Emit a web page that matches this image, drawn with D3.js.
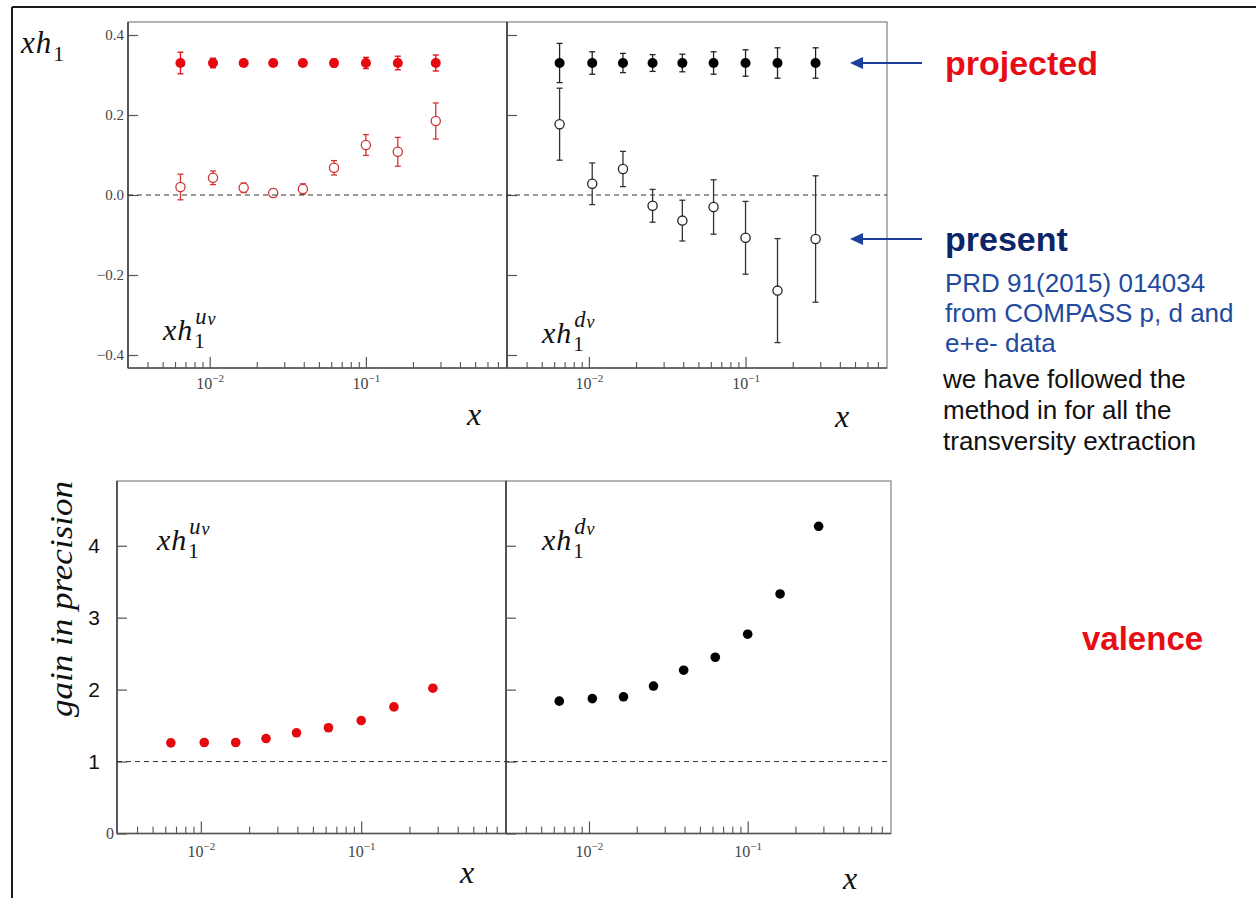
<!DOCTYPE html>
<html>
<head>
<meta charset="utf-8">
<script src="https://cdn.jsdelivr.net/npm/d3@7"></script>
<style>
  body { margin: 0; background: #fff; }
  svg { display: block; }
</style>
</head>
<body>
<svg id="fig" width="1260" height="898"></svg>
<script>
// x bins shared by all four panels
const X_BINS = [0.0065, 0.0105, 0.0165, 0.0255, 0.0395, 0.0625, 0.1, 0.16, 0.28];

// transversity u_v: projected and present extraction
const U_PROJ     = [0.33, 0.33, 0.33, 0.33, 0.33, 0.33, 0.33, 0.33, 0.33];
const U_PROJ_ERR = [0.027, 0.012, 0.008, 0.004, 0.008, 0.010, 0.014, 0.017, 0.020];
const U_PRES     = [0.020, 0.043, 0.018, 0.005, 0.015, 0.068, 0.125, 0.108, 0.185];
const U_PRES_ERR = [0.032, 0.017, 0.012, 0.010, 0.013, 0.018, 0.026, 0.036, 0.045];

// transversity d_v: projected and present extraction
const D_PROJ     = [0.33, 0.33, 0.33, 0.33, 0.33, 0.33, 0.33, 0.33, 0.33];
const D_PROJ_ERR = [0.049, 0.028, 0.024, 0.021, 0.022, 0.028, 0.033, 0.038, 0.038];
const D_PRES     = [0.177, 0.028, 0.065, -0.027, -0.064, -0.030, -0.107, -0.239, -0.110];
const D_PRES_ERR = [0.090, 0.052, 0.044, 0.041, 0.051, 0.068, 0.091, 0.130, 0.158];

// gain in precision
const U_GAIN = [1.26, 1.265, 1.265, 1.32, 1.40, 1.47, 1.57, 1.76, 2.02];
const D_GAIN = [1.84, 1.875, 1.90, 2.05, 2.27, 2.45, 2.77, 3.33, 4.27];

// axes
const X_DOMAIN = [0.003, 0.8];
const X_MAJOR = [0.01, 0.1];
const Y_TICKS_TOP = [-0.4, -0.2, 0.0, 0.2, 0.4];
const Y_DOMAIN_TOP = [-0.4325, 0.4325];
const Y_TICKS_BOTTOM = [0, 1, 2, 3, 4];
const Y_DOMAIN_BOTTOM = [0, 4.9];

const RED = "#e5080e";
const RED_OPEN = "#cf3434";
const BLACK = "#000";
const SERIF = "'Liberation Serif', 'DejaVu Serif', serif";
const SANS = "'Liberation Sans', Arial, sans-serif";

const svg = d3.select("#fig");

// slide frame
svg.append("line").attr("x1", 12).attr("x2", 1256).attr("y1", 7).attr("y2", 7)
  .attr("stroke", "#1a1a1a").attr("stroke-width", 2);
svg.append("line").attr("x1", 12).attr("x2", 12).attr("y1", 7).attr("y2", 898)
  .attr("stroke", "#1a1a1a").attr("stroke-width", 2);

// minor ticks of the log axis
const X_MINOR = [];
for (let e = -3; e <= -1; e++) {
  for (let k = 2; k <= 9; k++) {
    const v = k * Math.pow(10, e);
    if (v > X_DOMAIN[0] && v < X_DOMAIN[1]) X_MINOR.push(v);
  }
}

function drawPanel(p) {
  const g = svg.append("g");
  const x = d3.scaleLog().domain(X_DOMAIN).range([p.left, p.right]);
  const y = d3.scaleLinear().domain(p.yDomain).range([p.bottom, p.top]);

  // frame
  g.append("rect").attr("x", p.left).attr("y", p.top)
    .attr("width", p.right - p.left).attr("height", p.bottom - p.top)
    .attr("fill", "none").attr("stroke", "#8a8a8a").attr("stroke-width", 1.3);
  g.append("line").attr("x1", p.left).attr("x2", p.left).attr("y1", p.top).attr("y2", p.bottom)
    .attr("stroke", "#333").attr("stroke-width", 1.4);
  g.append("line").attr("x1", p.left).attr("x2", p.right).attr("y1", p.bottom).attr("y2", p.bottom)
    .attr("stroke", "#555").attr("stroke-width", 1.4);

  // x axis: minor and major ticks pointing inward
  const gMinor = g.append("g").attr("transform", `translate(0,${p.bottom})`)
    .call(d3.axisBottom(x).tickValues(X_MINOR).tickSize(-p.minorLen).tickFormat(""));
  gMinor.select(".domain").remove();
  gMinor.selectAll("line").attr("stroke", "#555").attr("stroke-width", 1.1);

  const gMajor = g.append("g").attr("transform", `translate(0,${p.bottom})`)
    .call(d3.axisBottom(x).tickValues(X_MAJOR).tickSize(-p.majorLen).tickPadding(p.xLabelPad).tickFormat(""));
  gMajor.select(".domain").remove();
  gMajor.selectAll("line").attr("stroke", "#555").attr("stroke-width", 1.2);
  gMajor.selectAll("text").each(function (d) {
    const t = d3.select(this)
      .attr("font-family", SERIF).attr("font-size", 16).attr("fill", "#444");
    t.append("tspan").text("10");
    t.append("tspan").attr("dy", -7).attr("font-size", 11)
      .text("\u2212" + Math.round(-Math.log10(d)));
  });

  // y axis
  const gy = g.append("g").attr("transform", `translate(${p.left},0)`)
    .call(d3.axisLeft(y).tickValues(p.yTicks).tickSize(-10).tickPadding(p.yLabelPad)
      .tickFormat(p.yFormat || ""));
  gy.select(".domain").remove();
  gy.selectAll("line").attr("stroke", "#555").attr("stroke-width", 1.2);
  if (p.styleYLabels) p.styleYLabels(gy.selectAll(".tick text"));

  return { g, x, y };
}

function errorBars(g, x, y, vals, errs, color) {
  const cap = 3;
  const eg = g.append("g").attr("stroke", color).attr("stroke-width", 1.3);
  X_BINS.forEach((xv, i) => {
    const cx = x(xv), y1 = y(vals[i] + errs[i]), y2 = y(vals[i] - errs[i]);
    eg.append("line").attr("x1", cx).attr("x2", cx).attr("y1", y1).attr("y2", y2);
    eg.append("line").attr("x1", cx - cap).attr("x2", cx + cap).attr("y1", y1).attr("y2", y1);
    eg.append("line").attr("x1", cx - cap).attr("x2", cx + cap).attr("y1", y2).attr("y2", y2);
  });
}

function points(g, x, y, vals, opts) {
  g.append("g").selectAll("circle").data(vals).join("circle")
    .attr("cx", (d, i) => x(X_BINS[i]))
    .attr("cy", d => y(d))
    .attr("r", opts.r)
    .attr("fill", opts.fill)
    .attr("stroke", opts.stroke || "none")
    .attr("stroke-width", opts.strokeWidth || 0);
}

function refLine(g, y0, xl, xr, yScale) {
  g.append("line").attr("x1", xl).attr("x2", xr)
    .attr("y1", yScale(y0)).attr("y2", yScale(y0))
    .attr("stroke", "#333").attr("stroke-width", 1).attr("stroke-dasharray", "5,4");
}

// italic math label  x h_1^{q_v}
function mathLabel(x0, y0, size, flavour) {
  const g = svg.append("g").attr("font-family", SERIF).attr("fill", "#111");
  const main = g.append("text").attr("x", x0).attr("y", y0)
    .attr("font-size", size).attr("font-style", "italic").attr("letter-spacing", 1).text("xh");
  const w = main.node().getComputedTextLength();
  g.append("text").attr("x", x0 + w + 1).attr("y", y0 + size * 0.26)
    .attr("font-size", size * 0.7).text("1");
  if (flavour) {
    const sup = g.append("text").attr("x", x0 + w + 2).attr("y", y0 - size * 0.55)
      .attr("font-size", size * 0.75).attr("font-style", "italic").text(flavour);
    const ws = sup.node().getComputedTextLength();
    g.append("text").attr("x", x0 + w + 3 + ws).attr("y", y0 - size * 0.5)
      .attr("font-size", size * 0.6).attr("font-style", "italic").text("v");
  }
}

function axisTitleX(x0, y0) {
  svg.append("text").attr("x", x0).attr("y", y0)
    .attr("font-family", SERIF).attr("font-style", "italic").attr("font-size", 32)
    .attr("fill", "#111").text("x");
}

// ---------- top row: xh1 ----------
const topGeom = { top: 22, bottom: 368, yDomain: Y_DOMAIN_TOP, yTicks: Y_TICKS_TOP,
  minorLen: 6, majorLen: 11, xLabelPad: 10 };

const TL = drawPanel(Object.assign({}, topGeom, {
  left: 128, right: 507, yLabelPad: 4,
  yFormat: d3.format(".1f"),
  styleYLabels: s => s.attr("font-family", SERIF).attr("font-size", 15).attr("fill", "#444")
}));
const TR = drawPanel(Object.assign({}, topGeom, { left: 507, right: 887, yLabelPad: 4 }));

refLine(svg, 0, 128, 887, TL.y);

errorBars(TL.g, TL.x, TL.y, U_PROJ, U_PROJ_ERR, RED);
points(TL.g, TL.x, TL.y, U_PROJ, { r: 5, fill: RED });
errorBars(TL.g, TL.x, TL.y, U_PRES, U_PRES_ERR, RED_OPEN);
points(TL.g, TL.x, TL.y, U_PRES, { r: 4.6, fill: "#fff", stroke: RED_OPEN, strokeWidth: 1.3 });

errorBars(TR.g, TR.x, TR.y, D_PROJ, D_PROJ_ERR, "#222");
points(TR.g, TR.x, TR.y, D_PROJ, { r: 5, fill: BLACK });
errorBars(TR.g, TR.x, TR.y, D_PRES, D_PRES_ERR, "#333");
points(TR.g, TR.x, TR.y, D_PRES, { r: 4.6, fill: "#fff", stroke: "#222", strokeWidth: 1.3 });

mathLabel(21, 53, 31, null);
mathLabel(163, 340, 30, "u");
mathLabel(542, 343, 30, "d");
axisTitleX(467, 425);
axisTitleX(835, 427);

// ---------- bottom row: gain in precision ----------
const botGeom = { top: 481, bottom: 833.5, yDomain: Y_DOMAIN_BOTTOM, yTicks: Y_TICKS_BOTTOM,
  minorLen: 7, majorLen: 12, xLabelPad: 12 };

const BL = drawPanel(Object.assign({}, botGeom, {
  left: 117, right: 506, yLabelPad: 17,
  yFormat: d3.format("d"),
  styleYLabels: s => s.each(function (d) {
    const t = d3.select(this);
    if (d === 0) {
      t.attr("font-family", SERIF).attr("font-size", 16).attr("fill", "#444").attr("x", -3);
    } else {
      t.attr("font-family", SANS).attr("font-size", 21).attr("fill", "#111");
    }
  })
}));
const BR = drawPanel(Object.assign({}, botGeom, { left: 506, right: 891, yLabelPad: 4 }));

refLine(svg, 1, 117, 891, BL.y);

points(BL.g, BL.x, BL.y, U_GAIN, { r: 4.8, fill: RED });
points(BR.g, BR.x, BR.y, D_GAIN, { r: 4.8, fill: BLACK });

mathLabel(157, 550, 30, "u");
mathLabel(542, 550, 30, "d");
axisTitleX(460, 883);
axisTitleX(843, 889);

svg.append("text")
  .attr("transform", "translate(72,599) rotate(-90)")
  .attr("text-anchor", "middle")
  .attr("font-family", SERIF).attr("font-style", "italic").attr("font-size", 32)
  .attr("textLength", 236).attr("lengthAdjust", "spacingAndGlyphs")
  .attr("fill", "#111").text("gain in precision");

// ---------- annotations ----------
const BLUE_ARROW = "#1b3f9a";
function arrow(yv) {
  const yy = TR.y(yv);
  svg.append("line").attr("x1", 922).attr("x2", 858).attr("y1", yy).attr("y2", yy)
    .attr("stroke", BLUE_ARROW).attr("stroke-width", 2);
  svg.append("path")
    .attr("d", `M850,${yy} L863,${yy - 6} L863,${yy + 6} Z`)
    .attr("fill", BLUE_ARROW);
}
arrow(D_PROJ[D_PROJ.length - 1]);
arrow(D_PRES[D_PRES.length - 1]);

function label(x0, y0, txt, size, color, weight) {
  svg.append("text").attr("x", x0).attr("y", y0)
    .attr("font-family", SANS).attr("font-size", size)
    .attr("font-weight", weight || "normal").attr("fill", color).text(txt);
}
label(945, 75, "projected", 34, "#e60d14", "bold");
label(945, 251, "present", 34, "#0c2566", "bold");
label(945, 292, "PRD 91(2015) 014034", 26, "#1f4a9e");
label(945, 322, "from COMPASS p, d and", 26, "#1f4a9e");
label(945, 352, "e+e- data", 26, "#1f4a9e");
label(943, 388, "we have followed the", 26, "#111");
label(943, 419, "method in for all the", 26, "#111");
label(943, 450, "transversity extraction", 26, "#111");
label(1082, 650, "valence", 33, "#e60d14", "bold");
</script>
</body>
</html>
